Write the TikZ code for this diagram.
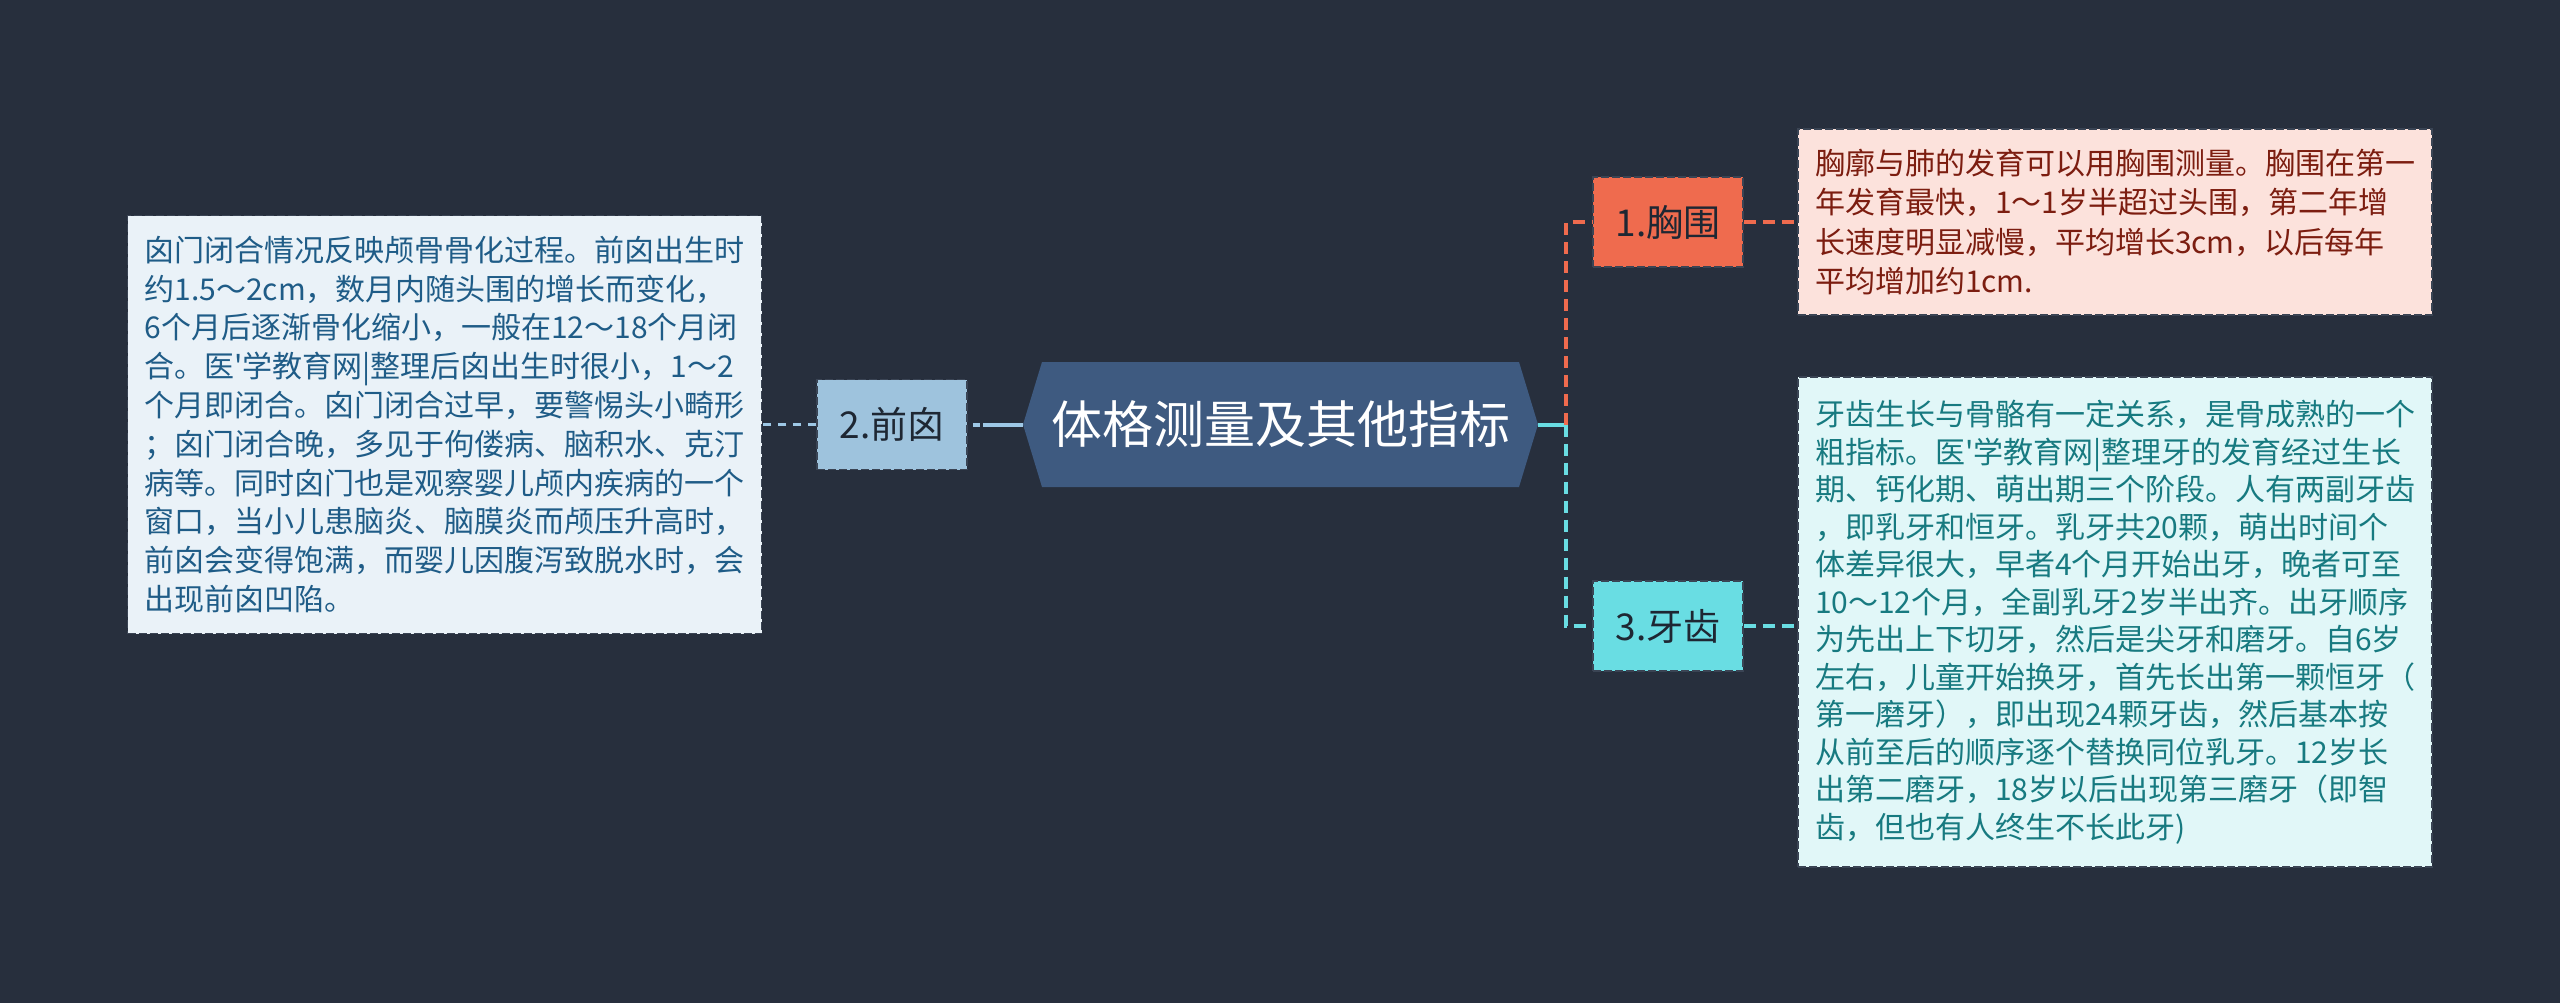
\documentclass[tikz,border=0pt]{standalone}
\usepackage{fontspec}
\setmainfont{Noto Sans CJK SC}[Ligatures=TeXOff]
\definecolor{bg}{HTML}{272F3D}
\definecolor{hexfill}{HTML}{3E5A80}
\definecolor{lbluefill}{HTML}{9EC3DD}
\definecolor{lblueline}{HTML}{9EC8E6}
\definecolor{leftfill}{HTML}{EAF2F8}
\definecolor{lefttext}{HTML}{1F5C87}
\definecolor{orangec}{HTML}{EF6B4E}
\definecolor{pinkfill}{HTML}{FCE2DC}
\definecolor{redtext}{HTML}{7C1D10}
\definecolor{cyanc}{HTML}{69DDE3}
\definecolor{cyanfill}{HTML}{E1F7F8}
\definecolor{tealtext}{HTML}{177A80}
\definecolor{branchtext}{HTML}{1E2733}
\definecolor{boxline}{HTML}{3A4454}
\begin{document}
\begin{tikzpicture}[x=0.5pt,y=-0.5pt,
  box/.style={draw=boxline, dash pattern=on 4pt off 1.5pt, line width=0.75pt, inner sep=0pt, align=left},
  detail/.style={box, minimum width=317pt, font=\fontsize{15pt}{19.4pt}\selectfont},
  branch/.style={box, minimum width=75pt, minimum height=45pt, align=center, text=branchtext, font=\fontsize{18.5pt}{22pt}\selectfont},
  conn/.style={line width=1.9pt, dash pattern=on 6pt off 3.5pt}
]
\useasboundingbox (0,0) rectangle (2560,1003);
\fill[bg] (0,0) rectangle (2560,1003);

% central hexagon
\fill[hexfill] (1023,424.5) -- (1042,362) -- (1519,362) -- (1538,424.5) -- (1519,487) -- (1042,487) -- cycle;
\node[minimum width=257.5pt, minimum height=62.5pt, inner sep=0pt, text=white,
  font=\fontsize{25.5pt}{30pt}\selectfont] (root) at (1280.5,424.5) {体格测量及其他指标};

% branch nodes
\node[branch, fill=orangec] (xiongwei) at (1668,222) {1.胸围};
\node[branch, fill=lbluefill] (qianxin) at (892,424.5) {2.前囟};
\node[branch, fill=cyanc] (yachi) at (1668,626) {3.牙齿};

% detail boxes
\node[detail, fill=leftfill, text=lefttext, minimum height=209pt] (qtext) at (444.5,424.5) {囟门闭合情况反映颅骨骨化过程。前囟出生时\\
约1.5～2cm，数月内随头围的增长而变化，\\
6个月后逐渐骨化缩小，一般在12～18个月闭\\
合。医'学教育网|整理后囟出生时很小，1～2\\
个月即闭合。囟门闭合过早，要警惕头小畸形\\
；囟门闭合晚，多见于佝偻病、脑积水、克汀\\
病等。同时囟门也是观察婴儿颅内疾病的一个\\
窗口，当小儿患脑炎、脑膜炎而颅压升高时，\\
前囟会变得饱满，而婴儿因腹泻致脱水时，会\\
出现前囟凹陷。};

\node[detail, fill=pinkfill, text=redtext, minimum height=93pt,
  font=\fontsize{15pt}{19.6pt}\selectfont] (xtext) at (2115,222) {胸廓与肺的发育可以用胸围测量。胸围在第一\\
年发育最快，1～1岁半超过头围，第二年增\\
长速度明显减慢，平均增长3cm，以后每年\\
平均增加约1cm.};

\node[detail, fill=cyanfill, text=tealtext, minimum height=245pt,
  font=\fontsize{15pt}{18.75pt}\selectfont] (ytext) at (2115,622) {牙齿生长与骨骼有一定关系，是骨成熟的一个\\
粗指标。医'学教育网|整理牙的发育经过生长\\
期、钙化期、萌出期三个阶段。人有两副牙齿\\
，即乳牙和恒牙。乳牙共20颗，萌出时间个\\
体差异很大，早者4个月开始出牙，晚者可至\\
10～12个月，全副乳牙2岁半出齐。出牙顺序\\
为先出上下切牙，然后是尖牙和磨牙。自6岁\\
左右，儿童开始换牙，首先长出第一颗恒牙（\\
第一磨牙），即出现24颗牙齿，然后基本按\\
从前至后的顺序逐个替换同位乳牙。12岁长\\
出第二磨牙，18岁以后出现第三磨牙（即智\\
齿，但也有人终生不长此牙)};

% connectors
\coordinate (hub) at (1566,424.5);
\draw[cyanc, line width=2pt] (root.east) -- (hub);
\draw[orangec, conn] (hub) |- (xiongwei.west);
\draw[cyanc, conn] (hub) |- (yachi.west);
\draw[orangec, conn] (xiongwei.east) -- (xiongwei.east -| xtext.west);
\draw[cyanc, conn] (yachi.east) -- (yachi.east -| ytext.west);
\draw[lblueline, line width=2pt, dash pattern=on 20pt off 1.5pt on 3.5pt off 10pt] (root.west) -- (qianxin.east);
\draw[lblueline, conn, dash pattern=on 4pt off 3.5pt] (qianxin.west) -- (qianxin.west -| qtext.east);
\end{tikzpicture}
\end{document}
